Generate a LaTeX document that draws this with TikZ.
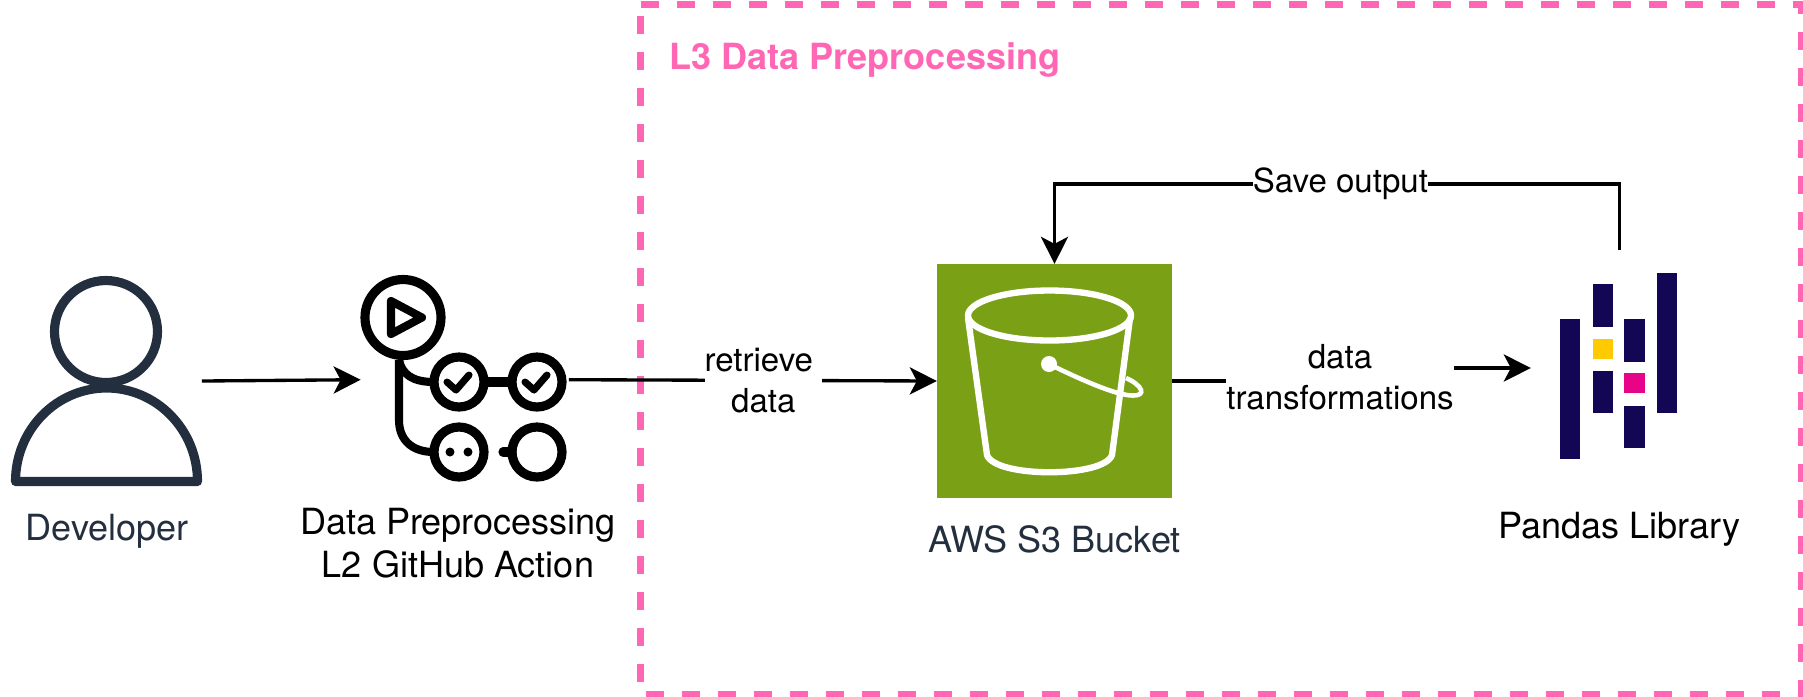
\documentclass[tikz,border=0pt]{standalone}
\usepackage{fontspec}
\setmainfont{TeX Gyre Heros}
\usepackage{tikz}
\usetikzlibrary{arrows.meta, positioning, calc}
\definecolor{awsink}{RGB}{35, 47, 62}
\definecolor{bucketgreen}{RGB}{122, 161, 22}
\definecolor{framepink}{RGB}{255, 102, 179}
\definecolor{pandasblue}{RGB}{19, 6, 84}
\definecolor{pandasyellow}{RGB}{255, 202, 0}
\definecolor{pandaspink}{RGB}{231, 4, 136}
\tikzset{
    iconbox/.style={inner sep=0pt, outer sep=0pt, minimum width=#1},
    caption/.style={align=center, font=\fontsize{10.25}{12}\selectfont, inner sep=0pt, text=black},
    edgelabel/.style={align=center, font=\fontsize{9.4}{11.8}\selectfont, fill=white, inner sep=0pt, text=black},
    flow/.style={line width=0.95pt, >={Stealth[length=7.7pt, width=7.7pt, inset=2pt]}},
    actionline/.style={draw=black, line width=2.6pt},
    bucketline/.style={draw=white, line width=1.8pt, line join=round}
}
\begin{document}
\begin{tikzpicture}[x=0.01cm, y=-0.01cm]
    \useasboundingbox (0,0) rectangle (1803,696);

    % Boundary of the L3 stage
    \draw[framepink, line width=1.85pt, dash pattern=on 5.12pt off 5.12pt] (640.6,4.3) -- (1801.5,4.3) -- (1801.5,694.7) -- (640.6,694.7) -- cycle;
    \node[caption, anchor=base west, text=framepink, font=\fontsize{10.25}{12}\selectfont\bfseries] (l3title) at (668.5,69) {L3 Data Preprocessing};

    % Developer
    \node[iconbox=54.3pt, minimum height=59.7pt] (developer) at (106.5,381) {};
    \draw[awsink, line width=2.6pt] (106,331.5) circle [x radius=51.5, y radius=51];
    \draw[awsink, line width=2.6pt, line join=round] (15.5,481.5) arc [start angle=180, end angle=0, x radius=91, y radius=-93.5] -- cycle;
    \node[caption, anchor=base, text=awsink] (developerlabel) at (107,540) {Developer};

    % GitHub Action workflow
    \node[iconbox=59.2pt, minimum height=59pt] (action) at (464.8,379.7) {};
    \draw[actionline] (403,317.5) circle [radius=38];
    \draw[actionline, line width=2.3pt, line join=round] (391,301) -- (422,317.5) -- (391,334) -- cycle;
    \foreach \x/\y in {459/382, 537/382, 459/452, 537/452} {
        \draw[actionline] (\x,\y) circle [radius=25];
    }
    \draw[actionline, line width=2.3pt] (399,360) -- (399,420) .. controls (399,440) and (412,452) .. (434,452);
    \draw[actionline, line width=2.3pt] (399,360) .. controls (402,374) and (412,382) .. (434,382);
    \draw[actionline] (484,382) -- (512,382);
    \draw[actionline, line cap=round] (503,452) -- (512,452);
    \foreach \x in {0,78} {
        \draw[black, line width=2pt, line cap=round, line join=round] (447+\x,382) -- (456+\x,390) -- (469+\x,375);
    }
    \fill (450,452) circle [radius=4.5];
    \fill (468,452) circle [radius=4.5];
    \node[caption, anchor=base] (actionlabel) at (458,577) {Data Preprocessing\\L2 GitHub Action};

    % S3 bucket
    \node[iconbox=66.9pt, minimum height=66.6pt, fill=bucketgreen] (bucket) at (1054.5,381) {};
    \draw[bucketline] (1049.5,315.5) circle [x radius=81.5, y radius=25];
    \draw[bucketline] (968,318) -- (987,455) .. controls (995,478) and (1104,478) .. (1112,455) -- (1130,318);
    \fill[white] (1049,364) circle [radius=8];
    \draw[white, line width=1.3pt] (1049,364) .. controls (1075,377) and (1105,390) .. (1120,393.5) .. controls (1133,397) and (1143,396) .. (1141,390) .. controls (1140,386) and (1133,381) .. (1126,378);
    \node[caption, anchor=base, text=awsink] (bucketlabel) at (1054.5,552) {AWS S3 Bucket};

    % Pandas logo
    \node[iconbox=50.4pt, minimum height=67.1pt] (pandas) at (1619.5,368) {};
    \foreach \xa/\ya/\xb/\yb in {1560/319.3/1580.3/459.3, 1592.7/284.3/1613.3/326.7, 1592.7/371/1613.3/413.3, 1624.3/319.3/1645/361.7, 1624.3/405.7/1645/447.7, 1656.7/273.3/1676.7/413.3} {
        \fill[pandasblue] (\xa,\ya) rectangle (\xb,\yb);
    }
    \fill[pandasyellow] (1592.7,339) rectangle (1613.3,358.7);
    \fill[pandaspink] (1624.3,373.3) rectangle (1645,393.3);
    \node[caption, anchor=base] (pandaslabel) at (1619.5,538) {Pandas Library};

    % Connectors
    \coordinate (transformbend) at (1340,377);
    \coordinate (savecorner) at (1619.5,184);
    \draw[flow, ->] (developer.east) -- (action.west);
    \draw[flow, ->] (action.east) -- (bucket.west) node[pos=0.5285, edgelabel] (retrievelabel) {retrieve\kern2.6pt\\data};
    \draw[flow, ->] (bucket.east) -| (transformbend) |- (pandas.west);
    \node[edgelabel] (transformlabel) at (transformbend) {data\\transformations};
    \draw[flow, ->] (pandas.north) |- (bucket.north |- savecorner) node[pos=0.747, edgelabel] (savelabel) {Save output} -- (bucket.north);
\end{tikzpicture}
\end{document}
